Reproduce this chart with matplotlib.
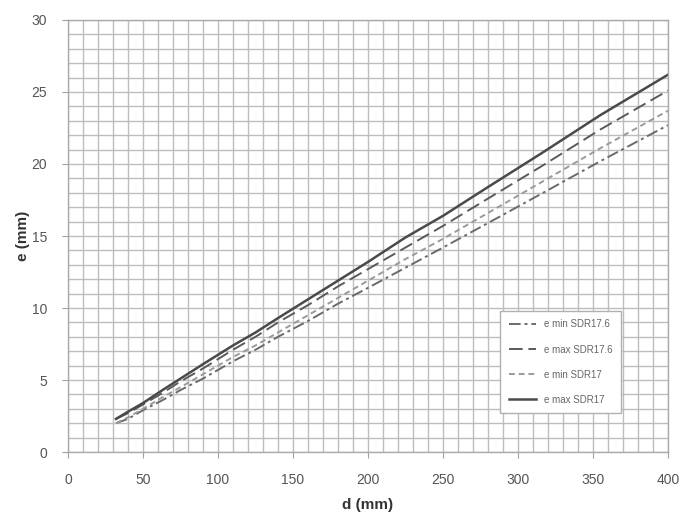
import matplotlib
matplotlib.use("Agg")
import matplotlib.pyplot as plt
from matplotlib.ticker import MultipleLocator

plt.rcParams['font.family'] = ['Liberation Sans', 'DejaVu Sans']

d = [32, 40, 50, 63, 75, 90, 110, 125, 140, 160, 180, 200, 225, 250, 280, 315, 355, 400]
e_min_sdr176 = [2.0, 2.3, 2.9, 3.6, 4.3, 5.1, 6.3, 7.1, 8.0, 9.1, 10.3, 11.4, 12.8, 14.2, 15.9, 17.9, 20.2, 22.7]
e_max_sdr176 = [2.3, 2.7, 3.3, 4.1, 4.9, 5.8, 7.1, 8.0, 9.0, 10.2, 11.5, 12.7, 14.2, 15.7, 17.6, 19.8, 22.4, 25.1]
e_min_sdr17 = [2.0, 2.4, 3.0, 3.8, 4.5, 5.4, 6.6, 7.4, 8.3, 9.5, 10.7, 11.9, 13.4, 14.8, 16.6, 18.7, 21.1, 23.7]
e_max_sdr17 = [2.3, 2.8, 3.4, 4.3, 5.1, 6.1, 7.4, 8.3, 9.3, 10.6, 11.9, 13.2, 14.9, 16.4, 18.4, 20.7, 23.4, 26.2]
labels = ["e min SDR17.6", "e max SDR17.6", "e min SDR17", "e max SDR17"]
x_ticks = [0, 50, 100, 150, 200, 250, 300, 350, 400]
y_ticks = [0, 5, 10, 15, 20, 25, 30]

fig = plt.figure(figsize=(6.92, 5.18), dpi=100)
ax = fig.add_axes([0.0983, 0.1274, 0.867, 0.834])

ax.plot(d, e_min_sdr176, color='#6a6a6a', lw=1.4, ls=(0, (6, 2, 1.5, 2)), label=labels[0])
ax.plot(d, e_max_sdr176, color='#5a5a5a', lw=1.4, ls=(0, (7, 3)), label=labels[1])
ax.plot(d, e_min_sdr17, color='#9a9a9a', lw=1.4, ls=(0, (3, 2)), label=labels[2])
ax.plot(d, e_max_sdr17, color='#4a4a4a', lw=1.8, ls='-', label=labels[3])

ax.set_xlim(0, 400)
ax.set_ylim(0, 30)
ax.set_xticks(x_ticks)
ax.set_yticks(y_ticks)
ax.xaxis.set_minor_locator(MultipleLocator(10))
ax.yaxis.set_minor_locator(MultipleLocator(1))
ax.grid(which='both', color='#bdbdbd', lw=1.0)
ax.set_axisbelow(True)
for s in ax.spines.values():
    s.set_color('#aaaaaa')
    s.set_linewidth(1.0)
ax.tick_params(which='major', length=4, color='#a0a0a0', labelsize=10, labelcolor='#555555')
ax.tick_params(axis='x', which='major', pad=11)
ax.tick_params(axis='y', which='major', pad=11)
ax.tick_params(which='minor', length=0)

ax.set_xlabel('d (mm)', fontsize=11, fontweight='bold', color='#333333', labelpad=8)
ax.set_ylabel('e (mm)', fontsize=11, fontweight='bold', color='#333333')
ax.yaxis.set_label_coords(-0.064, 0.5)

leg = ax.legend(loc='lower right', bbox_to_anchor=(0.93, 0.078), fontsize=7,
                frameon=True, fancybox=False, edgecolor='#b0b0b0', framealpha=1,
                handlelength=2.8, labelspacing=1.55, borderpad=0.9)
for t in leg.get_texts():
    t.set_color('#666666')

fig.savefig('out.png', dpi=100)
